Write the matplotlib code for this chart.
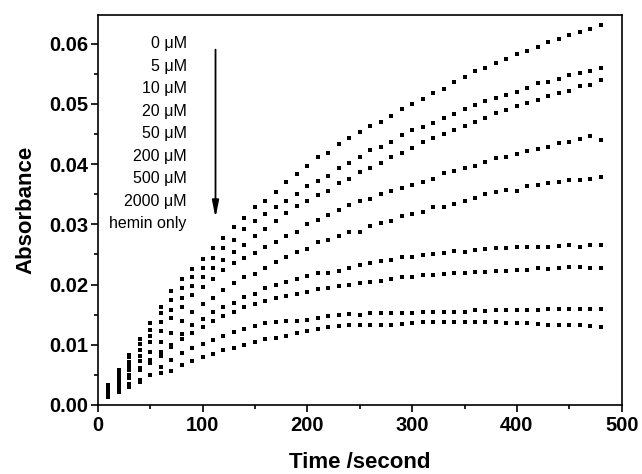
import matplotlib
matplotlib.use("Agg")
import matplotlib.pyplot as plt
import numpy as np
from matplotlib.ticker import MultipleLocator

plt.rcParams['font.family'] = ['Liberation Sans', 'DejaVu Sans']

time_s = list(range(10, 490, 10))

labels = ["0 \u03bcM", "5 \u03bcM", "10 \u03bcM", "20 \u03bcM", "50 \u03bcM",
          "200 \u03bcM", "500 \u03bcM", "2000 \u03bcM", "hemin only"]

s_0uM = [.0034, .0058, .0083, .0110, .0136, .0163, .0189, .0209, .0225, .0242,
         .0261, .0278, .0295, .0311, .0328, .0339, .0354, .0370, .0384, .0397,
         .0411, .0419, .0433, .0444, .0453, .0463, .0470, .0480, .0491, .0499,
         .0508, .0518, .0525, .0536, .0544, .0555, .0559, .0567, .0575, .0583,
         .0588, .0594, .0602, .0608, .0614, .0620, .0625, .0631]
s_5uM = [.0032, .0055, .0079, .0101, .0125, .0152, .0175, .0194, .0212, .0227,
         .0244, .0260, .0274, .0292, .0306, .0317, .0329, .0339, .0350, .0363,
         .0372, .0381, .0393, .0401, .0411, .0423, .0429, .0437, .0448, .0457,
         .0461, .0469, .0476, .0483, .0492, .0498, .0505, .0510, .0515, .0520,
         .0526, .0534, .0537, .0542, .0548, .0552, .0555, .0559]
s_10uM = [.0030, .0050, .0072, .0092, .0115, .0137, .0158, .0177, .0197, .0212,
          .0227, .0240, .0254, .0266, .0281, .0293, .0306, .0318, .0330, .0338,
          .0348, .0356, .0368, .0375, .0386, .0393, .0402, .0412, .0418, .0426,
          .0436, .0444, .0450, .0457, .0464, .0470, .0477, .0485, .0490, .0497,
          .0501, .0506, .0513, .0518, .0522, .0529, .0531, .0539]
s_20uM = [.0028, .0045, .0065, .0082, .0105, .0123, .0144, .0163, .0182, .0196,
          .0210, .0224, .0235, .0244, .0253, .0263, .0271, .0280, .0288, .0300,
          .0307, .0316, .0324, .0332, .0338, .0342, .0350, .0355, .0360, .0365,
          .0371, .0375, .0385, .0389, .0393, .0397, .0404, .0410, .0412, .0416,
          .0422, .0425, .0429, .0435, .0437, .0442, .0446, .0440]
s_50uM = [.0025, .0040, .0058, .0073, .0088, .0105, .0120, .0140, .0155, .0168,
          .0177, .0191, .0203, .0212, .0217, .0227, .0237, .0245, .0254, .0259,
          .0270, .0274, .0280, .0288, .0288, .0297, .0302, .0306, .0313, .0317,
          .0320, .0328, .0329, .0334, .0338, .0344, .0350, .0354, .0357, .0355,
          .0364, .0365, .0369, .0370, .0373, .0374, .0376, .0379]
s_200uM = [.0021, .0036, .0050, .0062, .0075, .0088, .0100, .0118, .0132, .0142,
           .0154, .0162, .0170, .0180, .0185, .0195, .0200, .0205, .0210, .0214,
           .0219, .0219, .0223, .0227, .0232, .0235, .0239, .0241, .0246, .0246,
           .0249, .0250, .0253, .0256, .0254, .0257, .0259, .0260, .0260, .0263,
           .0262, .0263, .0263, .0264, .0266, .0263, .0266, .0266]
s_500uM = [.0019, .0032, .0045, .0058, .0070, .0082, .0096, .0110, .0120, .0129,
           .0139, .0148, .0155, .0162, .0167, .0172, .0177, .0181, .0184, .0187,
           .0192, .0195, .0198, .0199, .0203, .0204, .0206, .0210, .0212, .0212,
           .0215, .0215, .0217, .0219, .0219, .0220, .0221, .0223, .0223, .0224,
           .0224, .0228, .0226, .0227, .0229, .0229, .0227, .0228]
s_2000uM = [.0016, .0025, .0035, .0042, .0050, .0063, .0075, .0086, .0094, .0101,
            .0108, .0114, .0122, .0126, .0131, .0136, .0138, .0140, .0140, .0141,
            .0144, .0147, .0149, .0151, .0150, .0152, .0152, .0152, .0153, .0153,
            .0154, .0155, .0155, .0155, .0155, .0157, .0156, .0157, .0158, .0158,
            .0158, .0158, .0160, .0159, .0159, .0160, .0159, .0159]
s_hemin = [.0013, .0022, .0030, .0038, .0049, .0053, .0057, .0066, .0073, .0079,
           .0084, .0091, .0094, .0100, .0104, .0109, .0112, .0115, .0119, .0123,
           .0126, .0129, .0131, .0133, .0133, .0133, .0133, .0133, .0135, .0136,
           .0137, .0137, .0137, .0137, .0137, .0137, .0137, .0137, .0136, .0136,
           .0136, .0135, .0133, .0133, .0132, .0132, .0131, .0130]

series = [s_0uM, s_5uM, s_10uM, s_20uM, s_50uM, s_200uM, s_500uM, s_2000uM, s_hemin]

fig = plt.figure(figsize=(6.42, 4.74), dpi=100)
ax = fig.add_axes([0.1522, 0.1456, 0.8162, 0.8234])

for vals in series:
    ax.plot(time_s, vals, linestyle='none', marker='s', markersize=3.5,
            color='black', markeredgewidth=0)

ax.set_xlim(0, 500)
ax.set_ylim(0, 0.0648)
ax.xaxis.set_major_locator(MultipleLocator(100))
ax.xaxis.set_minor_locator(MultipleLocator(50))
ax.yaxis.set_major_locator(MultipleLocator(0.01))
ax.yaxis.set_minor_locator(MultipleLocator(0.005))
ax.yaxis.set_major_formatter(matplotlib.ticker.FormatStrFormatter('%.2f'))

for sp in ax.spines.values():
    sp.set_linewidth(1.2)
ax.tick_params(which='major', direction='out', length=5, width=1.2,
               labelsize=14.5, top=False, right=False)
ax.tick_params(which='minor', direction='out', length=3, width=1.2,
               top=False, right=False)
ax.tick_params(axis='x', which='major', pad=3)
ax.tick_params(axis='y', which='major', pad=2)
for lab in ax.get_xticklabels() + ax.get_yticklabels():
    lab.set_fontweight('bold')

ax.set_xlabel("Time /second", fontsize=16, fontweight='bold', labelpad=12)
ax.set_ylabel("Absorbance", fontsize=16, fontweight='bold', labelpad=9)

# concentration labels
trans = ax.transAxes
y0 = (405 - 48.3) / 390.3
dy = 22.5 / 390.3
xr = (186.7 - 97.7) / 524.0
for i, lab in enumerate(labels):
    ax.text(xr, y0 - i * dy, lab, transform=trans, ha='right', va='baseline',
            fontsize=11.5)

ax.annotate('', xy=(112.4, 0.0311), xytext=(112.4, 0.0590),
            arrowprops=dict(arrowstyle='-|>,head_width=0.2,head_length=1.0',
                            lw=1.3, color='black', shrinkA=0, shrinkB=0))

fig.savefig("out.png", dpi=100)
